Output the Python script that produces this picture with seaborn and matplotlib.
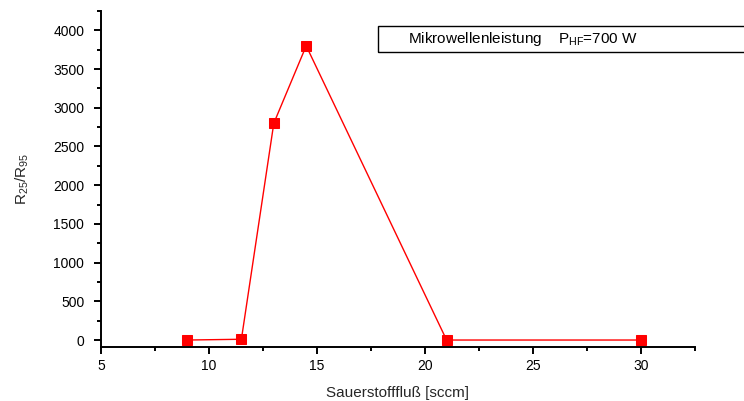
import matplotlib
matplotlib.use("Agg")
import matplotlib.pyplot as plt
from matplotlib.patches import Rectangle
from matplotlib.ticker import MultipleLocator
import numpy as np
import pandas as pd
import seaborn as sns

# Oxygen flow (sccm) and resistance ratio R25/R95
flow = [9.0, 11.5, 13.0, 14.5, 21.0, 30.0]
ratio = [0, 10, 2800, 3800, 0, 0]

x_label = "Sauerstofffluß [sccm]"
y_label = r"R$_{25}$/R$_{95}$"
box_text = r"Mikrowellenleistung    P$_{HF}$=700 W"

sns.set_style("ticks")
plt.rcParams["font.family"] = ["Liberation Sans", "DejaVu Sans"]
plt.rcParams["mathtext.fontset"] = "custom"
plt.rcParams["mathtext.rm"] = "Liberation Sans"
plt.rcParams["mathtext.it"] = "Liberation Sans"

df = pd.DataFrame({"flow": flow, "ratio": ratio})

fig = plt.figure(figsize=(7.44, 4.01), dpi=100)
ax = fig.add_axes([101 / 744, 54 / 401, 594 / 744, 336 / 401])

sns.lineplot(data=df, x="flow", y="ratio", ax=ax, color="#ff0000",
             linewidth=1.0, marker="s", markersize=6.5,
             markeredgecolor="#ff0000", markerfacecolor="#ff0000")

ax.set_xlim(5, 32.5)
ax.set_ylim(-90, 4250)
ax.xaxis.set_major_locator(MultipleLocator(5))
ax.xaxis.set_minor_locator(MultipleLocator(2.5))
ax.yaxis.set_major_locator(MultipleLocator(500))
ax.yaxis.set_minor_locator(MultipleLocator(250))

sns.despine(ax=ax)
for side in ("left", "bottom"):
    ax.spines[side].set_linewidth(1.4)
    ax.spines[side].set_color("black")

ax.tick_params(which="major", direction="out", length=5, width=1.4,
               labelsize=10, colors="black")
ax.tick_params(axis="y", which="major", pad=7)
ax.tick_params(axis="x", which="major", pad=4)
ax.tick_params(which="minor", direction="out", length=3, width=1.4,
               colors="black")

ax.set_xlabel(x_label, fontsize=11, labelpad=9)
ax.set_ylabel(y_label, fontsize=11, labelpad=16)

# framed annotation at the top right, running past the figure edge
fig.patches.append(Rectangle((378 / 744, (401 - 52) / 401), 0.5, 26 / 401,
                             transform=fig.transFigure, fill=False,
                             edgecolor="black", linewidth=1.0))
fig.text(408 / 744, (401 - 39) / 401, box_text, fontsize=11,
         va="center", ha="left", color="black")

fig.savefig("out.png", dpi=100)
